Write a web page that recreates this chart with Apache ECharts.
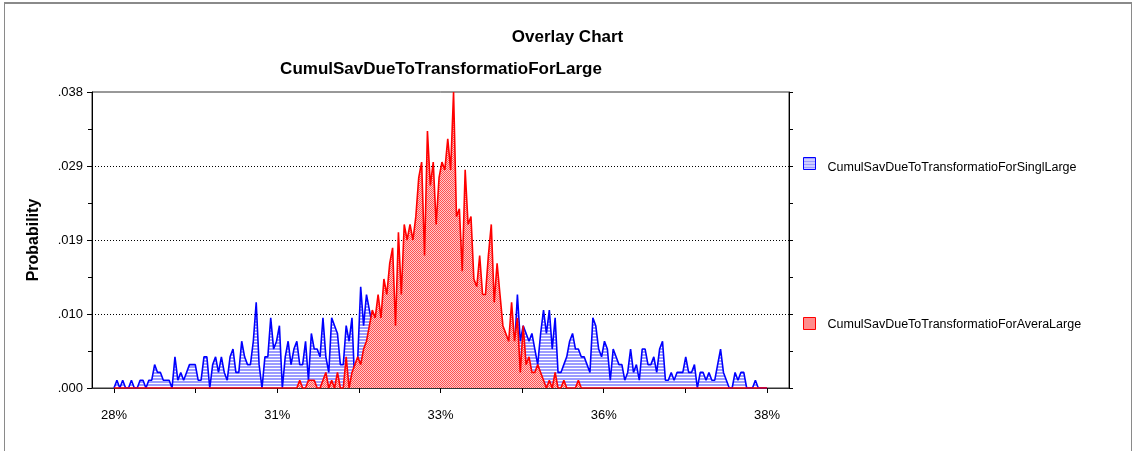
<!DOCTYPE html>
<html>
<head>
<meta charset="utf-8">
<title>Overlay Chart</title>
<script src="https://cdn.jsdelivr.net/npm/echarts@6/dist/echarts.min.js"></script>
<style>
  html, body { margin: 0; padding: 0; background: #fff; }
  #chart { width: 1135px; height: 451px; }
</style>
</head>
<body>
<div id="chart"></div>
<script>
// frequency counts per bin (out of 1000 trials), 226 bins run evenly from 28% to 38%
const trials = 1000;
const binStart = 28;
const binEnd = 38;

const singlCounts = [
  0,1,0,1,0,0,1,0,0,1,1,0,1,1,3,2,2,1,1,1,0,4,1,2,1,2,3,3,3,1,1,4,4,0,3,4,2,4,2,1,
  4,5,2,2,6,4,3,3,6,11,3,0,4,4,9,5,6,8,
  0,4,6,3,5,6,3,3,6,1,7,5,5,4,9,4,2,9,8,7,3,3,8,6,9,0,4,13,8,12,10,
  8,7,9,6,10,8,9,7,6,9,8,7,10,8,6,9,8,7,9,8,7,10,8,6,9,8,7,9,8,7,
  9,6,8,10,7,8,9,6,8,7,10,8,9,7,6,7,5,6,8,5,
  12,6,8,7,6,7,5,3,7,10,7,10,5,9,2,2,3,4,6,7,5,5,4,4,3,2,9,8,5,4,
  6,5,1,5,4,3,3,1,2,5,2,3,1,5,5,3,3,4,2,5,6,1,1,2,1,2,2,2,4,2,
  2,3,0,2,2,1,2,1,1,3,5,2,1,0,0,2,1,2,2,0,0,0,1,0,0,0,0
];

const averaCounts = [
  0,0,0,0,0,0,0,0,0,0,0,0,0,0,0,0,0,0,0,0,0,0,0,0,0,0,0,0,0,0,0,0,
  0,0,0,0,0,0,0,0,0,0,0,0,0,0,0,0,0,0,0,0,0,0,0,0,0,0,0,0,0,0,0,0,
  1,0,0,1,1,1,0,0,1,2,0,1,0,2,0,0,4,0,2,3,4,3,5,6,8,10,9,12,9,14,
  12,16,18,8,20,12,21,19,21,19,22,27,29,17,33,26,29,21,27,29,28,32,28,38,
  22,23,15,28,21,22,14,13,17,12,12,17,21,11,16,12,8,7,6,11,
  6,9,2,8,3,4,2,2,3,2,1,0,1,0,2,0,
  0,1,0,0,0,0,1,0,0,0,0,0,0,0,0,0,0,0,0,0,0,0,0,0,0,0,0,0,0,0,0,0,
  0,0,0,0,0,0,0,0,0,0,0,0,0,0,0,0,0,0,0,0,0,0,0,0,0,0,0,0,0,0,0,0,
  0,0,0,0,0,0,0,0
];

const seriesNames = [
  'CumulSavDueToTransformatioForSinglLarge',
  'CumulSavDueToTransformatioForAveraLarge'
];
const yTickLabels = ['.000', '.010', '.019', '.029', '.038'];
const xLabelValues = [28, 30.5, 33, 35.5, 38];
const xTickLabels = ['28%', '31%', '33%', '36%', '38%'];

const font = 'Liberation Sans, Arial, sans-serif';

function toPoints(counts) {
  const step = (binEnd - binStart) / (counts.length - 1);
  return counts.map((c, i) => [binStart + i * step, c / trials]);
}

// fill patterns: blue horizontal hatch, red dotted checker
function stripePattern() {
  const c = document.createElement('canvas');
  c.width = 4; c.height = 3;
  const ctx = c.getContext('2d');
  ctx.fillStyle = '#ffffff';
  ctx.fillRect(0, 0, 4, 3);
  ctx.fillStyle = '#9c9cff';
  ctx.fillRect(0, 0, 4, 2);
  return c;
}
function checkerPattern() {
  const c = document.createElement('canvas');
  c.width = 2; c.height = 2;
  const ctx = c.getContext('2d');
  ctx.fillStyle = '#ffcaca';
  ctx.fillRect(0, 0, 2, 2);
  ctx.fillStyle = '#ff5050';
  ctx.fillRect(0, 0, 1, 1);
  ctx.fillRect(1, 1, 1, 1);
  return c;
}
const bluePattern = { image: stripePattern(), repeat: 'repeat' };
const redPattern = { image: checkerPattern(), repeat: 'repeat' };

const xTickValues = [];
for (let v = 28; v <= 38.001; v += 1.25) xTickValues.push(v);

function legendText(padTop) {
  return {
    fontFamily: font, fontSize: 12.5, color: '#000',
    rich: { t: { fontFamily: font, fontSize: 12.5, color: '#000', padding: [padTop, 0, 0, 7] } }
  };
}

const chart = echarts.init(document.getElementById('chart'));

chart.setOption({
  animation: false,
  backgroundColor: '#fff',
  title: [
    {
      text: 'Overlay Chart',
      left: 'center', top: 29, padding: 0,
      textStyle: { fontFamily: font, fontSize: 17, fontWeight: 'bold', color: '#000' }
    },
    {
      text: 'CumulSavDueToTransformatioForLarge',
      left: 441, top: 61, padding: 0, textAlign: 'center',
      textStyle: { fontFamily: font, fontSize: 17, fontWeight: 'bold', color: '#000' }
    }
  ],
  legend: [
    {
      data: [{ name: seriesNames[0], icon: 'rect',
        itemStyle: { color: bluePattern, borderColor: '#0000ff', borderWidth: 1 } }],
      left: 803, top: 157, padding: 0, itemWidth: 12, itemHeight: 12,
      selectedMode: false,
      formatter: '{t|{name}}',
      textStyle: legendText(8)
    },
    {
      data: [{ name: seriesNames[1], icon: 'rect',
        itemStyle: { color: redPattern, borderColor: '#ff0000', borderWidth: 1 } }],
      left: 803, top: 317, padding: 0, itemWidth: 12, itemHeight: 12,
      selectedMode: false,
      formatter: '{t|{name}}',
      textStyle: legendText(3)
    }
  ],
  grid: {
    left: 92, right: 346, top: 92, bottom: 63,
    show: true, borderColor: '#333', borderWidth: 1
  },
  xAxis: {
    type: 'value',
    min: 27.663, max: 38.337,
    axisLine: { lineStyle: { color: '#333', width: 1 } },
    axisTick: { customValues: xTickValues, length: 5, lineStyle: { color: '#000' } },
    axisLabel: {
      customValues: xLabelValues,
      formatter: v => xTickLabels[xLabelValues.indexOf(v)] || '',
      margin: 21, fontFamily: font, fontSize: 13, color: '#000'
    },
    splitLine: { show: false }
  },
  yAxis: [
    {
      type: 'value', position: 'left',
      min: 0, max: 0.038, interval: 0.0095,
      name: 'Probability', nameLocation: 'middle', nameGap: 50,
      nameTextStyle: { fontFamily: font, fontSize: 16, fontWeight: 'bold', color: '#000' },
      axisLine: { show: true, lineStyle: { color: '#000', width: 1 } },
      axisTick: { show: true, length: 5, lineStyle: { color: '#000' } },
      minorTick: { show: true, splitNumber: 2, length: 4, lineStyle: { color: '#000' } },
      axisLabel: {
        formatter: v => yTickLabels[Math.round(v / 0.0095)],
        margin: 9, fontFamily: font, fontSize: 13, color: '#000'
      },
      splitLine: { show: true, showMaxLine: false, lineStyle: { type: [1, 2], color: '#000', width: 1 } }
    },
    {
      type: 'value', position: 'right',
      min: 0, max: 0.038, interval: 0.0095,
      axisLine: { show: true, lineStyle: { color: '#000', width: 1 } },
      axisTick: { show: true, length: 4, lineStyle: { color: '#000' } },
      minorTick: { show: true, splitNumber: 2, length: 4, lineStyle: { color: '#000' } },
      axisLabel: { show: false },
      splitLine: { show: false }
    }
  ],
  series: [
    {
      name: seriesNames[0], type: 'line', data: toPoints(singlCounts),
      showSymbol: false, z: 2,
      lineStyle: { color: '#0000ff', width: 1.6 },
      itemStyle: { color: '#0000ff' },
      areaStyle: { color: bluePattern, opacity: 1 }
    },
    {
      name: seriesNames[1], type: 'line', data: toPoints(averaCounts),
      showSymbol: false, z: 3,
      lineStyle: { color: '#ff0000', width: 1.6 },
      itemStyle: { color: '#ff0000' },
      areaStyle: { color: redPattern, opacity: 1 }
    }
  ],
  graphic: [
    {
      type: 'rect', silent: true,
      shape: { x: 4.5, y: 3.5, width: 1127, height: 460 },
      style: { fill: 'none', stroke: '#8a8a8a', lineWidth: 1 }
    },
    {
      type: 'rect', silent: true,
      shape: { x: 4, y: 2, width: 1128, height: 2 },
      style: { fill: '#8a8a8a' }
    }
  ]
});

window.onresize = () => chart.resize();
</script>
</body>
</html>
